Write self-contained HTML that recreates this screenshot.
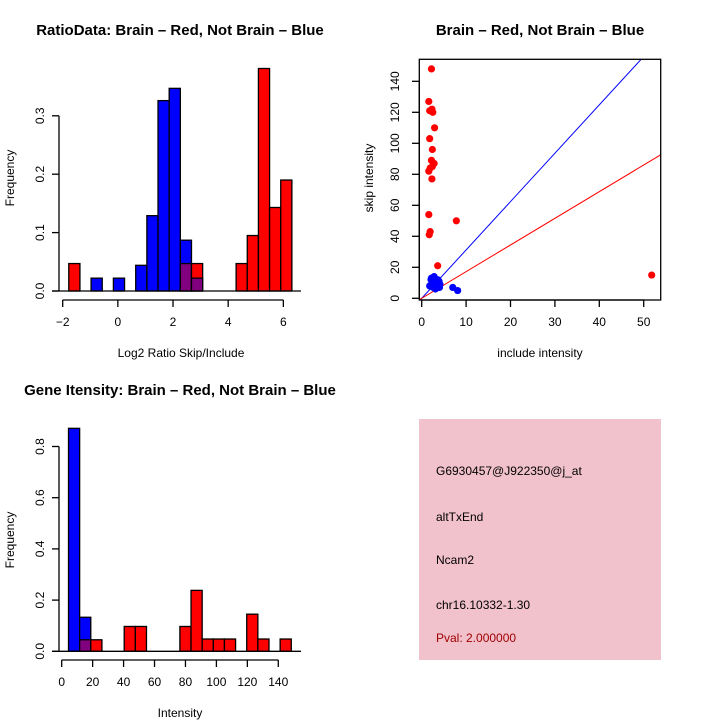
<!DOCTYPE html>
<html><head><meta charset="utf-8"><style>
body{margin:0;background:#fff;}
svg{display:block;font-family:"Liberation Sans",sans-serif;}
</style></head><body>
<svg id="s" width="720" height="720" viewBox="0 0 720 720">
<rect width="720" height="720" fill="#fff"/>
<text x="180" y="35" font-size="15" font-weight="bold" text-anchor="middle">RatioData: Brain – Red, Not Brain – Blue</text>
<text x="540" y="35" font-size="15" font-weight="bold" text-anchor="middle">Brain – Red, Not Brain – Blue</text>
<text x="180" y="395" font-size="15" font-weight="bold" text-anchor="middle">Gene Itensity: Brain – Red, Not Brain – Blue</text>
<text x="181" y="357" font-size="12" text-anchor="middle">Log2 Ratio Skip/Include</text>
<text transform="translate(14,178) rotate(-90)" font-size="12" text-anchor="middle">Frequency</text>
<text x="540" y="357" font-size="12" text-anchor="middle">include intensity</text>
<text transform="translate(373,178) rotate(-90)" font-size="12" text-anchor="middle">skip intensity</text>
<text x="180" y="717" font-size="12" text-anchor="middle">Intensity</text>
<text transform="translate(14,540) rotate(-90)" font-size="12" text-anchor="middle">Frequency</text>
<g>
<rect x="419" y="419" width="242" height="241" fill="#f1c1cc"/>
<text x="436" y="475" font-size="12">G6930457@J922350@j_at</text>
<text x="436" y="521" font-size="12">altTxEnd</text>
<text x="436" y="564" font-size="12">Ncam2</text>
<text x="436" y="609" font-size="12">chr16.10332-1.30</text>
<text x="436" y="642" font-size="12" fill="#a00000">Pval: 2.000000</text>
</g>
</svg>
<script>
// Ratio histogram
const ratioBinStart = -1.78, ratioBinWidth = 0.4045;
const ratioRed = [0.047,0,0,0,0,0,0,0,0,0,0.047,0.047,0,0,0,0.047,0.095,0.381,0.143,0.190];
const ratioBlue = [0,0,0.022,0,0.022,0,0.044,0.129,0.326,0.347,0.087,0.022,0,0,0,0,0,0,0,0];
const ratioXTicks = [-2,0,2,4,6];
const ratioYTicks = [0,0.1,0.2,0.3];
// Intensity histogram
const intBinStart = 4.4, intBinWidth = 7.2;
const intRed = [0,0.045,0.045,0,0,0.097,0.097,0,0,0,0.097,0.238,0.048,0.048,0.048,0,0.145,0.048,0,0.048];
const intBlue = [0.871,0.133,0,0,0,0,0,0,0,0,0,0,0,0,0,0,0,0,0,0];
const intXTicks = [0,20,40,60,80,100,120,140];
const intYTicks = [0,0.2,0.4,0.6,0.8];
// Scatter
const redInclude = [2.2,1.6,1.8,2.3,2.5,2.9,1.8,2.4,2.2,2.8,2.4,1.9,1.6,2.3,1.6,7.8,1.9,1.7,3.6,51.8,2.6];
const redSkip = [148,127,121,122,120,110,103,96,89,87,85,84,82,77,54,50,43,41,21,15,87];
const blueInclude = [2.0,2.5,3.0,3.5,4.0,2.2,2.8,3.3,3.8,1.8,2.6,3.1,3.6,4.1,2.4,2.9,3.4,7.0,8.1,2.1,3.9];
const blueSkip = [8,10,12,9,7,13,14,11,10,8,7,6,12,9,11,9,8,7,5,12,11];
const blueSlope = 3.12, redSlope = 1.72;
const scXTicks = [0,10,20,30,40,50];
const scYTicks = [0,20,40,60,80,100,120,140];

const NS='http://www.w3.org/2000/svg', svg=document.getElementById('s');
function el(t,a,p){const e=document.createElementNS(NS,t);for(const k in a)e.setAttribute(k,a[k]);(p||svg).appendChild(e);return e;}

function hist(o){
  const g=el('g',{});
  
  
  const X=v=>o.x0+(v-o.xv0)*o.xs, Y=v=>o.y0-v*o.ys;
  for(let i=0;i<o.red.length;i++){
    const a=o.start+i*o.w, b=a+o.w, r=o.red[i], bl=o.blue[i];
    const draw=(h,c,nm)=>{const e=el('rect',{x:X(a),y:Y(h),width:X(b)-X(a),height:Y(0)-Y(h),fill:c,stroke:'#000','stroke-width':1.3},g);
      
      };
    if(r>0||bl>0){
      const mx=Math.max(r,bl), mn=Math.min(r,bl);
      draw(mx, r>=bl?'#f00':'#00f', 'bar-'+i);
      if(mn>0) draw(mn,'#800080','overlap-bar-'+i);
    }
  }
  el('line',{x1:o.bx1,x2:o.bx2,y1:Y(0),y2:Y(0),stroke:'#000','stroke-width':1.3},g);
  const yt=o.yt; const ya=el('g',{},g);
  
  
  el('line',{x1:o.x0a,x2:o.x0a,y1:Y(yt[0]),y2:Y(yt[yt.length-1]),stroke:'#000','stroke-width':1.3},ya);
  yt.forEach(v=>{el('line',{x1:o.x0a-7,x2:o.x0a,y1:Y(v),y2:Y(v),stroke:'#000','stroke-width':1.3},ya);
    const t=el('text',{transform:`translate(${o.x0a-15},${Y(v)}) rotate(-90)`,'font-size':12,'text-anchor':'middle'},ya);t.textContent=v.toFixed(1);});
  const xa=el('g',{},g);
  
  
  const xt=o.xt;
  el('line',{x1:X(xt[0]),x2:X(xt[xt.length-1]),y1:o.ax,y2:o.ax,stroke:'#000','stroke-width':1.3},xa);
  xt.forEach(v=>{el('line',{x1:X(v),x2:X(v),y1:o.ax,y2:o.ax+7,stroke:'#000','stroke-width':1.3},xa);
    const t=el('text',{x:X(v),y:o.ax+26,'font-size':12,'text-anchor':'middle'},xa);t.textContent=String(v).replace('-','−');});
}
hist({name:'ratio-histogram',red:ratioRed,blue:ratioBlue,start:ratioBinStart,w:ratioBinWidth,xv0:-2,x0:62.7,xs:27.58,y0:291,ys:584,x0a:59,bx1:52,bx2:301,ax:300,xt:ratioXTicks,yt:ratioYTicks});
hist({name:'intensity-histogram',red:intRed,blue:intBlue,start:intBinStart,w:intBinWidth,xv0:0,x0:61.7,xs:1.547,y0:651.3,ys:256,x0a:59,bx1:52,bx2:301,ax:660,xt:intXTicks,yt:intYTicks});

// scatter
const sg=el('g',{});


const SX=v=>421.7+v*4.44, SY=v=>298.3-v*1.55;
const cp=el('clipPath',{id:'cp'},sg);
el('rect',{x:419.3,y:59.3,width:241.4,height:240.7},cp);
const lb=el('line',{x1:SX(-1),y1:SY(-blueSlope),x2:SX(60),y2:SY(60*blueSlope),stroke:'#00f','stroke-width':1,'clip-path':'url(#cp)'},sg);


const lr=el('line',{x1:SX(-1),y1:SY(-redSlope),x2:SX(60),y2:SY(60*redSlope),stroke:'#f00','stroke-width':1,'clip-path':'url(#cp)'},sg);


redInclude.forEach((v,i)=>{const c=el('circle',{cx:SX(v),cy:SY(redSkip[i]),r:3.6,fill:'#f00'},sg);
  
  });
blueInclude.forEach((v,i)=>{const c=el('circle',{cx:SX(v),cy:SY(blueSkip[i]),r:3.6,fill:'#00f'},sg);
  
  });
const box=el('rect',{x:419.3,y:59.3,width:241.4,height:240.7,fill:'none',stroke:'#000','stroke-width':1.3},sg);


el('line',{x1:SX(0),x2:SX(50),y1:300,y2:300,stroke:'#000','stroke-width':1.3},sg);
scXTicks.forEach(v=>{el('line',{x1:SX(v),x2:SX(v),y1:300,y2:307,stroke:'#000','stroke-width':1.3},sg);
  const t=el('text',{x:SX(v),y:326,'font-size':12,'text-anchor':'middle'},sg);t.textContent=v;});
el('line',{x1:419.3,x2:419.3,y1:SY(0),y2:SY(140),stroke:'#000','stroke-width':1.3},sg);
scYTicks.forEach(v=>{el('line',{x1:412,x2:419.3,y1:SY(v),y2:SY(v),stroke:'#000','stroke-width':1.3},sg);
  const t=el('text',{transform:`translate(399,${SY(v)}) rotate(-90)`,'font-size':12,'text-anchor':'middle'},sg);t.textContent=v;});
</script>
</body></html>
